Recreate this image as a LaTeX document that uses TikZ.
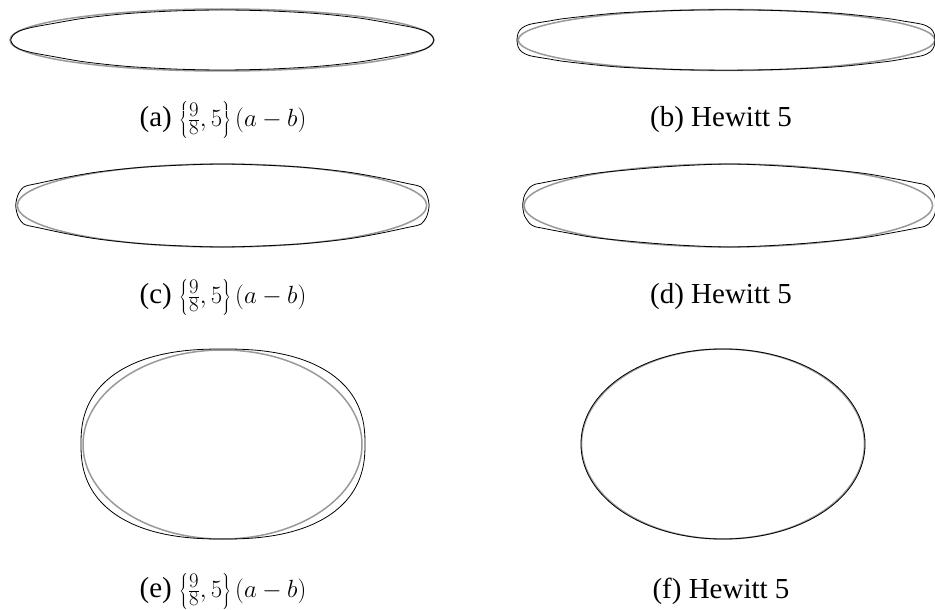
\documentclass[tikz,border=0pt]{standalone}
\usepackage{fontspec}
\setmainfont{Liberation Serif}
\tikzset{
  refcurve/.style={draw=black!40, line width=1.5pt},
  fitcurve/.style={draw=black, line width=0.8pt},
  capt/.style={font=\fontsize{29}{33}\selectfont, inner sep=0pt, anchor=center}
}
\newcommand{\lensA}{(-1,0) (-0.989,0.16) (-0.96,0.30) (-0.90,0.42) (-0.80,0.55) (-0.65,0.73) (-0.45,0.88) (-0.22,0.97) (0,1)
 (0.22,0.97) (0.45,0.88) (0.65,0.73) (0.80,0.55) (0.90,0.42) (0.96,0.30) (0.989,0.16) (1,0)
 (0.989,-0.16) (0.96,-0.30) (0.90,-0.42) (0.80,-0.55) (0.65,-0.73) (0.45,-0.88) (0.22,-0.97) (0,-1)
 (-0.22,-0.97) (-0.45,-0.88) (-0.65,-0.73) (-0.80,-0.55) (-0.90,-0.42) (-0.96,-0.30) (-0.989,-0.16)}
\newcommand{\lensB}{(-1,0) (-0.995,0.22) (-0.978,0.39) (-0.938,0.52) (-0.85,0.625) (-0.762,0.72) (-0.523,0.89) (-0.25,0.975) (0,1)
 (0.25,0.975) (0.523,0.89) (0.762,0.72) (0.85,0.625) (0.938,0.52) (0.978,0.39) (0.995,0.22) (1,0)
 (0.995,-0.22) (0.978,-0.39) (0.938,-0.52) (0.85,-0.625) (0.762,-0.72) (0.523,-0.89) (0.25,-0.975) (0,-1)
 (-0.25,-0.975) (-0.523,-0.89) (-0.762,-0.72) (-0.85,-0.625) (-0.938,-0.52) (-0.978,-0.39) (-0.995,-0.22)}
\newcommand{\lensC}{(-1,0) (-0.995,0.16) (-0.985,0.30) (-0.963,0.44) (-0.935,0.49) (-0.90,0.525) (-0.753,0.68) (-0.592,0.815) (-0.35,0.935) (0,1)
 (0.35,0.935) (0.592,0.815) (0.753,0.68) (0.90,0.525) (0.935,0.49) (0.963,0.44) (0.985,0.30) (0.995,0.16) (1,0)
 (0.995,-0.16) (0.985,-0.30) (0.963,-0.44) (0.935,-0.49) (0.90,-0.525) (0.753,-0.68) (0.592,-0.815) (0.35,-0.935) (0,-1)
 (-0.35,-0.935) (-0.592,-0.815) (-0.753,-0.68) (-0.90,-0.525) (-0.935,-0.49) (-0.963,-0.44) (-0.985,-0.30) (-0.995,-0.16)}
\newcommand{\lensD}{(-1,0) (-0.997,0.13) (-0.99,0.26) (-0.965,0.44) (-0.94,0.51) (-0.916,0.535) (-0.80,0.645) (-0.626,0.79) (-0.303,0.935) (0,1)
 (0.303,0.935) (0.626,0.79) (0.80,0.645) (0.916,0.535) (0.94,0.51) (0.965,0.44) (0.99,0.26) (0.997,0.13) (1,0)
 (0.997,-0.13) (0.99,-0.26) (0.965,-0.44) (0.94,-0.51) (0.916,-0.535) (0.80,-0.645) (0.626,-0.79) (0.303,-0.935) (0,-1)
 (-0.303,-0.935) (-0.626,-0.79) (-0.80,-0.645) (-0.916,-0.535) (-0.94,-0.51) (-0.965,-0.44) (-0.99,-0.26) (-0.997,-0.13)}
\begin{document}
\begin{tikzpicture}[x=1pt,y=-1pt]
\useasboundingbox (0,0) rectangle (935,610);
\begin{scope}
\clip (0,0) rectangle (935,610);
% (a)
\draw[refcurve] (222,40) ellipse [x radius=212, y radius=31];
\draw[fitcurve, shift={(222.25,40)}, xscale=211.5, yscale=30] plot[smooth cycle, tension=0.5] coordinates {\lensA};
% (b)
\draw[refcurve] (726.5,40) ellipse [x radius=208.3, y radius=30.5];
\draw[fitcurve, shift={(726,40)}, xscale=209, yscale=30.2] plot[smooth cycle, tension=0.5] coordinates {\lensB};
% (c)
\draw[refcurve] (222,205.5) ellipse [x radius=204.7, y radius=41.5];
\draw[fitcurve, shift={(222.4,205.5)}, xscale=206.7, yscale=41.5] plot[smooth cycle, tension=0.5] coordinates {\lensC};
% (d)
\draw[refcurve] (728.3,205.5) ellipse [x radius=204.3, y radius=41.5];
\draw[fitcurve, shift={(729.4,205.5)}, xscale=206.7, yscale=41.5] plot[smooth cycle, tension=0.5] coordinates {\lensD};
% (e)
\draw[refcurve] (222.5,444.5) ellipse [x radius=139.5, y radius=94.5];
\draw[fitcurve] plot[domain=1:359, samples=180, variable=\t]
  ({223+142*sign(cos(\t))*pow(abs(cos(\t)),0.8333)}, {444-95*sign(sin(\t))*pow(abs(sin(\t)),0.8333)}) -- cycle;
% (f)
\draw[refcurve] (723,444) ellipse [x radius=141.5, y radius=95];
\draw[fitcurve] plot[domain=1:359, samples=180, variable=\t]
  ({723+142*sign(cos(\t))*pow(abs(cos(\t)),0.985)}, {444-95*sign(sin(\t))*pow(abs(sin(\t)),0.985)}) -- cycle;
\end{scope}
\node[capt] (ca) at (223,120) {(a) $\left\{\frac{9}{8},5\right\}(a-b)$};
\node[capt] (cb) at (721,120) {(b) Hewitt 5};
\node[capt] (cc) at (223,297) {(c) $\left\{\frac{9}{8},5\right\}(a-b)$};
\node[capt] (cd) at (721,297) {(d) Hewitt 5};
\node[capt] (ce) at (223,591) {(e) $\left\{\frac{9}{8},5\right\}(a-b)$};
\node[capt] (cf) at (721,591) {(f) Hewitt 5};
\end{tikzpicture}
\end{document}
